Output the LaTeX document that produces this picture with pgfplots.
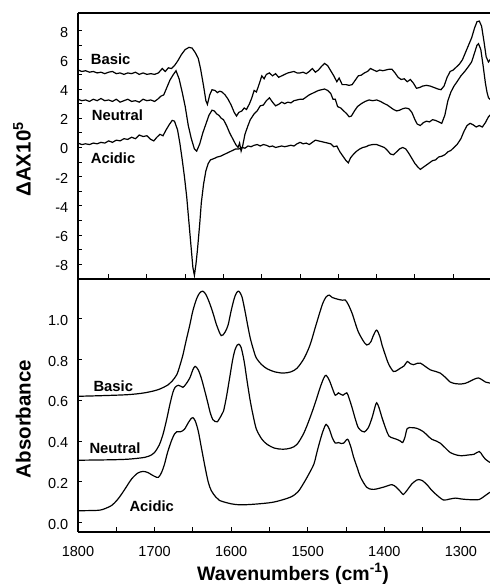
\documentclass[border=0pt]{standalone}
\usepackage{pgfplots}
\pgfplotsset{compat=1.18}
\usepackage{fontspec}
\setmainfont{Liberation Sans}

\tikzset{lab/.style={anchor=west, inner sep=0pt, font=\fontsize{14.8}{16}\selectfont\bfseries}}
\pgfplotsset{
  spec/.style={
    scale only axis, width=412pt,
    x dir=reverse,
    axis x line*=box, axis y line*=left,
    xtick pos=left, ytick pos=left,
    tick align=inside,
    axis line style={line width=1.6pt, black},
    every tick/.style={line width=1pt, black},
    major tick length=4.5pt, minor tick length=4.5pt,
    tick label style={font=\fontsize{14.5}{16}\selectfont},
    yticklabel style={inner sep=0pt, xshift=-9.5pt, yshift=-1.5pt},
    xticklabel style={inner sep=0pt, yshift=-14pt},
    ylabel style={font=\fontsize{20.5}{24}\selectfont\bfseries, anchor=base},
    every axis plot/.append style={line width=1.2pt, black, no markers},
  },
}

\pgfplotstableread{
x y
1790 5.3
1785 5.2
1780 5.25
1775 5.15
1770 5.2
1765 5.1
1760 5.15
1755 5.05
1750 5.15
1745 5.2
1740 5.05
1735 5.1
1730 5.0
1725 5.1
1720 5.05
1715 5.15
1710 5.0
1705 5.1
1700 5.0
1695 5.05
1690 5.0
1685 5.1
1680 5.4
1676 5.2
1672 5.45
1668 5.4
1664 5.6
1660 5.9
1655 6.35
1650 6.7
1645 6.85
1641 6.8
1637 6.5
1633 6.1
1630 5.4
1626 4.2
1623 3.2
1621 2.95
1618 3.6
1615 3.95
1611 3.9
1608 3.75
1605 3.85
1602 3.8
1598 3.6
1594 3.3
1590 2.9
1586 2.4
1583 2.15
1580 2.4
1576 2.5
1573 2.7
1570 2.6
1566 3.0
1563 3.4
1560 3.9
1557 3.8
1553 4.4
1550 4.9
1547 4.7
1544 5.0
1540 5.1
1536 4.9
1532 5.05
1528 4.8
1524 4.9
1520 5.0
1516 5.1
1512 5.15
1508 5.2
1504 5.1
1500 5.1
1496 5.15
1492 5.05
1488 5.2
1484 5.4
1480 5.15
1476 5.3
1472 5.55
1468 5.75
1464 5.6
1460 5.25
1456 4.9
1452 4.5
1449 4.75
1445 4.3
1440 4.3
1436 4.25
1432 4.3
1428 4.6
1424 4.9
1420 4.95
1416 5.1
1412 5.2
1408 5.4
1404 5.3
1400 5.2
1396 5.3
1392 5.25
1388 5.3
1384 5.35
1380 5.35
1376 5.1
1372 4.8
1368 4.65
1364 4.7
1360 4.5
1356 4.65
1352 4.4
1348 4.05
1344 4.1
1340 4.2
1335 4.25
1330 4.2
1325 4.1
1320 4.0
1316 3.95
1312 4.2
1308 4.8
1304 5.2
1300 5.3
1296 5.5
1292 5.7
1288 6.0
1284 6.5
1280 7.0
1276 7.5
1272 8.2
1269 8.6
1266 8.65
1263 8.3
1260 7.3
1257 6.2
1254 5.85
1252 6.0
1250 6.1
}\dBasic

\pgfplotstableread{
x y
1790 3.3
1785 3.2
1780 3.25
1775 3.15
1770 3.3
1765 3.2
1760 3.35
1755 3.2
1750 3.25
1745 3.15
1740 3.3
1735 3.1
1730 3.2
1725 3.3
1720 3.15
1715 3.2
1710 3.1
1705 3.3
1700 3.2
1695 3.25
1690 3.15
1686 3.3
1682 3.5
1678 3.6
1674 4.1
1670 4.6
1666 4.95
1662 5.25
1658 4.7
1654 3.8
1650 2.8
1646 1.5
1642 0.6
1638 -0.1
1635 -0.25
1631 0.25
1627 1.0
1623 1.6
1619 2.2
1615 2.55
1612 2.5
1609 2.3
1606 2.2
1603 2.0
1600 1.9
1596 1.5
1592 1.0
1588 0.6
1584 0.2
1581 0.0
1579 0.3
1577 -0.25
1575 0.1
1572 0.9
1568 1.5
1565 1.9
1560 2.3
1556 2.5
1552 2.85
1548 2.9
1544 3.2
1540 3.4
1536 3.1
1532 2.85
1528 2.95
1524 3.1
1520 3.0
1516 3.1
1512 3.05
1508 3.2
1504 3.25
1500 3.3
1496 3.3
1492 3.45
1488 3.6
1484 3.7
1480 3.8
1476 3.9
1472 3.95
1468 4.0
1464 3.9
1460 3.7
1457 3.3
1454 3.3
1451 2.8
1447 2.7
1443 2.5
1439 2.3
1436 2.1
1433 2.15
1429 2.5
1425 2.8
1420 3.0
1415 3.15
1410 3.25
1405 3.2
1400 3.25
1395 3.15
1390 3.0
1386 2.9
1382 2.75
1378 2.6
1374 2.5
1370 2.55
1366 2.65
1362 2.7
1358 2.65
1354 2.4
1350 1.9
1347 1.6
1343 1.5
1339 1.7
1335 1.8
1331 1.75
1327 1.9
1323 1.85
1319 1.75
1315 1.65
1311 2.2
1307 3.2
1303 3.8
1299 4.2
1295 4.5
1290 4.9
1285 5.2
1280 5.55
1276 5.85
1272 6.5
1269 7.0
1267 7.1
1264 6.7
1261 5.6
1258 4.4
1256 3.8
1254 3.4
1252 3.3
1250 3.35
}\dNeutral

\pgfplotstableread{
x y
1790 0.3
1785 0.2
1780 0.25
1775 0.2
1770 0.3
1765 0.25
1760 0.35
1755 0.3
1750 0.45
1745 0.35
1740 0.5
1735 0.45
1730 0.6
1725 0.55
1720 0.7
1715 0.6
1710 0.85
1705 0.75
1700 0.8
1695 0.55
1691 0.45
1687 0.7
1683 0.9
1679 0.8
1675 1.2
1671 1.55
1667 1.85
1664 1.8
1660 1.2
1657 0.3
1654 -0.8
1651 -2.0
1648 -3.4
1645 -5.2
1642 -7.0
1640 -8.2
1638 -8.75
1636 -8.0
1634 -7.0
1631 -5.2
1629 -3.8
1626 -2.5
1623 -1.6
1620 -1.1
1617 -0.85
1612 -0.75
1608 -0.65
1604 -0.6
1600 -0.5
1596 -0.4
1592 -0.3
1588 -0.2
1584 -0.1
1580 -0.1
1576 0.0
1572 -0.05
1568 0.1
1564 0.05
1560 0.15
1556 0.2
1552 0.1
1548 0.2
1544 0.15
1540 0.05
1536 0.1
1532 0.0
1528 0.05
1524 0.1
1520 0.05
1516 0.1
1512 0.15
1508 0.1
1504 0.25
1500 0.35
1496 0.25
1492 0.3
1488 0.2
1484 0.35
1480 0.5
1476 0.45
1472 0.4
1468 0.35
1464 0.3
1460 0.25
1456 0.05
1452 0.1
1448 -0.3
1444 -0.6
1440 -0.9
1437 -1.05
1434 -0.7
1430 -0.45
1426 -0.25
1422 -0.1
1418 0.0
1414 0.05
1410 0.15
1405 0.2
1400 0.2
1395 0.1
1390 0.0
1386 -0.2
1382 -0.45
1378 -0.5
1374 -0.3
1370 -0.1
1366 0.0
1362 -0.1
1358 -0.4
1354 -0.75
1350 -1.1
1346 -1.35
1343 -1.5
1339 -1.35
1335 -1.2
1331 -1.05
1327 -0.9
1323 -0.85
1319 -0.65
1315 -0.6
1311 -0.5
1307 -0.3
1303 -0.2
1299 0.0
1295 0.2
1290 0.6
1286 1.1
1282 1.5
1278 1.65
1274 1.55
1270 1.4
1266 1.5
1262 1.4
1258 1.7
1254 2.1
1250 2.3
}\dAcidic

\pgfplotstableread{
x y
1800 0.620
1770 0.623
1735 0.628
1713 0.637
1695 0.653
1682 0.677
1677 0.695
1671 0.726
1667 0.770
1663 0.823
1659 0.890
1654 0.970
1650 1.040
1645 1.100
1641 1.128
1637 1.136
1633 1.120
1628 1.076
1623 1.020
1619 0.970
1613 0.918
1608 0.935
1604 0.970
1600 1.040
1596 1.100
1593 1.128
1590 1.136
1586 1.110
1582 1.040
1578 0.960
1575 0.905
1571 0.850
1567 0.807
1560 0.775
1553 0.755
1543 0.740
1532 0.734
1522 0.740
1514 0.758
1505 0.805
1497 0.872
1490 0.960
1484 1.035
1480 1.080
1476 1.108
1472 1.117
1468 1.105
1464 1.100
1459 1.095
1455 1.092
1451 1.093
1447 1.070
1442 1.027
1438 0.980
1434 0.937
1428 0.895
1423 0.872
1418 0.885
1414 0.921
1410 0.945
1406 0.915
1403 0.872
1398 0.815
1394 0.775
1388 0.742
1383 0.748
1379 0.758
1374 0.770
1370 0.791
1366 0.780
1362 0.775
1357 0.782
1353 0.783
1347 0.768
1340 0.750
1333 0.742
1327 0.734
1320 0.712
1314 0.690
1307 0.682
1301 0.680
1294 0.684
1288 0.694
1282 0.705
1277 0.710
1272 0.700
1268 0.690
1262 0.685
}\aBasic

\pgfplotstableread{
x y
1800 0.306
1760 0.308
1735 0.311
1713 0.320
1704 0.332
1700 0.344
1694 0.380
1689 0.433
1684 0.510
1680 0.580
1676 0.640
1673 0.665
1669 0.674
1666 0.670
1663 0.664
1659 0.680
1654 0.710
1650 0.750
1647 0.767
1643 0.750
1639 0.710
1634 0.640
1630 0.580
1627 0.535
1624 0.506
1621 0.496
1618 0.495
1613 0.525
1610 0.547
1606 0.620
1602 0.710
1598 0.800
1595 0.848
1592 0.872
1590 0.876
1587 0.860
1583 0.791
1579 0.690
1575 0.596
1571 0.520
1567 0.458
1560 0.410
1553 0.384
1543 0.365
1532 0.360
1522 0.366
1514 0.384
1505 0.440
1497 0.515
1490 0.590
1484 0.661
1479 0.710
1476 0.723
1472 0.700
1468 0.661
1464 0.625
1460 0.637
1457 0.630
1454 0.625
1449 0.637
1446 0.610
1442 0.563
1438 0.510
1434 0.466
1429 0.448
1426 0.445
1421 0.465
1416 0.515
1412 0.570
1410 0.588
1407 0.565
1403 0.515
1398 0.460
1394 0.425
1389 0.415
1384 0.409
1379 0.400
1376 0.393
1373 0.420
1370 0.462
1364 0.466
1357 0.462
1349 0.446
1343 0.425
1338 0.409
1332 0.400
1327 0.390
1320 0.365
1314 0.344
1306 0.332
1299 0.328
1290 0.332
1283 0.335
1276 0.349
1272 0.330
1268 0.311
1262 0.295
}\aNeutral

\pgfplotstableread{
x y
1800 0.058
1774 0.060
1765 0.068
1756 0.084
1749 0.110
1743 0.140
1736 0.180
1730 0.214
1722 0.243
1715 0.251
1709 0.246
1704 0.235
1699 0.225
1695 0.222
1691 0.245
1687 0.287
1683 0.345
1678 0.401
1674 0.435
1671 0.446
1666 0.446
1661 0.458
1656 0.490
1652 0.512
1650 0.515
1647 0.500
1643 0.450
1639 0.370
1634 0.271
1630 0.200
1626 0.157
1620 0.125
1615 0.108
1600 0.092
1588 0.087
1570 0.090
1545 0.100
1523 0.124
1513 0.150
1506 0.189
1499 0.235
1492 0.287
1488 0.345
1484 0.401
1480 0.450
1476 0.482
1472 0.460
1468 0.417
1464 0.390
1460 0.393
1456 0.388
1453 0.390
1448 0.409
1444 0.375
1440 0.320
1435 0.265
1431 0.222
1423 0.173
1416 0.163
1410 0.165
1400 0.175
1390 0.186
1384 0.172
1378 0.148
1375 0.138
1370 0.160
1364 0.190
1358 0.208
1355 0.211
1350 0.205
1344 0.185
1339 0.162
1333 0.140
1323 0.111
1315 0.115
1307 0.120
1300 0.116
1292 0.113
1284 0.112
1276 0.113
1268 0.133
1262 0.149
}\aAcidic

\begin{document}
\begin{tikzpicture}
\path[use as bounding box] (-78pt,-52.3pt) rectangle (412pt,531.7pt);

\begin{axis}[spec,
  at={(0pt,252.7pt)}, anchor=south west, height=266pt,
  xmin=1252, xmax=1790, ymin=-9.0, ymax=9.2,
  xtick={1300,1350,...,1750}, xticklabels={},
  ytick={-8,-6,...,8}, yticklabels={-8,-6,-4,-2,0,2,4,6,8},
  minor ytick={-7,-5,...,7},
  ylabel={ΔAX10\textsuperscript{5}},
  ylabel style={at={(axis description cs:-0.1148,0.450)}},
]
\addplot[black, no markers] table[x=x,y=y]{\dBasic};
\addplot[black, no markers] table[x=x,y=y]{\dNeutral};
\addplot[black, no markers] table[x=x,y=y]{\dAcidic};
\node[lab] at (axis cs:1773.4,6.03) {Basic};
\node[lab] at (axis cs:1772.1,2.22) {Neutral};
\node[lab] at (axis cs:1773.4,-0.74) {Acidic};
\end{axis}

\begin{axis}[spec,
  at={(0pt,0pt)}, anchor=south west, height=252.7pt,
  xmin=1262, xmax=1800, ymin=-0.045, ymax=1.196,
  xtick={1300,1400,...,1800}, xticklabels={1300,1400,1500,1600,1700,1800},
  minor xtick={1350,1450,...,1750},
  ytick={0,0.2,...,1.0}, yticklabels={0.0,0.2,0.4,0.6,0.8,1.0},
  ylabel={Absorbance},
  ylabel style={at={(axis description cs:-0.1148,0.446)}},
  xlabel={Wavenumbers (cm\textsuperscript{-1})},
  xlabel style={font=\fontsize{19.5}{24}\selectfont\bfseries, at={(axis description cs:0.522,0)}, anchor=base, yshift=-48.5pt},
]
\addplot[black, smooth, tension=0.5] table[x=x,y=y]{\aBasic};
\addplot[black, smooth, tension=0.5] table[x=x,y=y]{\aNeutral};
\addplot[black, smooth, tension=0.5] table[x=x,y=y]{\aAcidic};
\node[lab] at (axis cs:1780,0.671) {Basic};
\node[lab] at (axis cs:1785.2,0.365) {Neutral};
\node[lab] at (axis cs:1733,0.078) {Acidic};
\end{axis}
\end{tikzpicture}
\end{document}
